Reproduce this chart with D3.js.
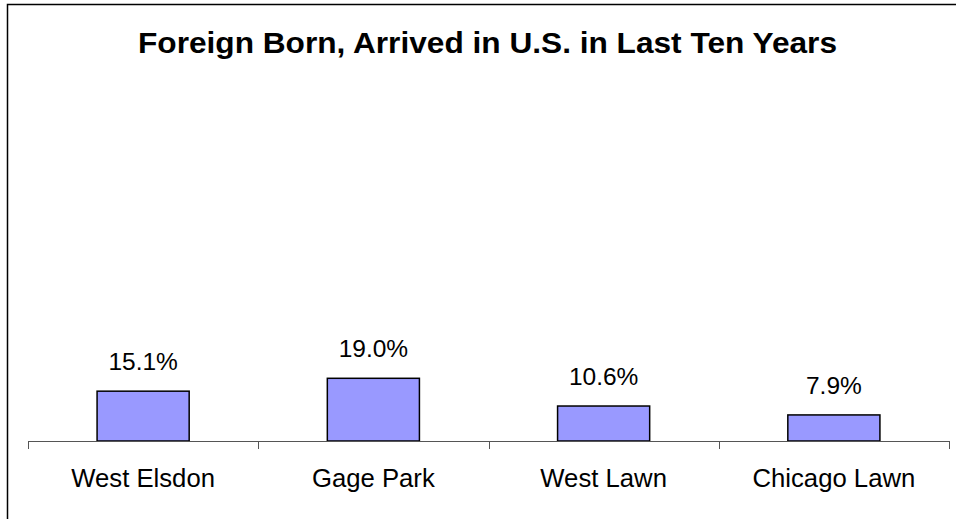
<!DOCTYPE html>
<html>
<head>
<meta charset="utf-8">
<script src="https://cdn.jsdelivr.net/npm/d3@7"></script>
<style>
  body { margin: 0; background: #fff; }
  text { font-family: "Liberation Sans", Arial, sans-serif; fill: #000; }
</style>
</head>
<body>
<div id="chart"></div>
<script>
const title = 'Foreign Born, Arrived in U.S. in Last Ten Years'
const neighborhoods = ['West Elsdon', 'Gage Park', 'West Lawn', 'Chicago Lawn']
const foreignBornPct = [15.1, 19.0, 10.6, 7.9]

const width = 956
const height = 519
const barFill = '#9999ff'

const svg = d3.select('#chart').append('svg')
    .attr('width', width)
    .attr('height', height)

// outer frame (only top and left edges fall inside the picture)
svg.append('path')
    .attr('d', `M7.5 ${height} V4.5 H${width}`)
    .attr('fill', 'none')
    .attr('stroke', '#000')
    .attr('stroke-width', 1.5)

// title is drawn a bit wider than the font normally runs
svg.append('text')
    .attr('x', 487.5)
    .attr('y', 53)
    .attr('text-anchor', 'middle')
    .attr('font-size', 29)
    .attr('font-weight', 'bold')
    .attr('textLength', 699)
    .attr('lengthAdjust', 'spacingAndGlyphs')
    .text(title)

const x = d3.scaleBand()
    .domain(neighborhoods)
    .range([28, 949])
    .paddingInner(0.6)
    .paddingOuter(0.3)

const y = d3.scaleLinear()
    .domain([0, 100])
    .range([441, 111])

const g = svg.append('g')

g.selectAll('rect.bar')
    .data(neighborhoods)
    .enter()
    .append('rect')
    .classed('bar', true)
    .attr('x', d => x(d))
    .attr('y', (d, i) => y(foreignBornPct[i]))
    .attr('width', x.bandwidth())
    .attr('height', (d, i) => y(0) - y(foreignBornPct[i]))
    .attr('fill', barFill)
    .attr('stroke', '#000')
    .attr('stroke-width', 1.5)

g.selectAll('text.value')
    .data(neighborhoods)
    .enter()
    .append('text')
    .classed('value', true)
    .attr('x', d => x(d) + x.bandwidth() / 2)
    .attr('y', (d, i) => y(foreignBornPct[i]) - 21)
    .attr('text-anchor', 'middle')
    .attr('font-size', 24.5)
    .text((d, i) => `${foreignBornPct[i].toFixed(1)}%`)

// category axis: line with ticks between bands
const boundaries = neighborhoods.map(d => x(d) - x.step() * x.paddingInner() / 2)
boundaries.push(x.range()[1])

g.append('line')
    .attr('x1', 28)
    .attr('x2', 950)
    .attr('y1', y(0) + 0.5)
    .attr('y2', y(0) + 0.5)
    .attr('stroke', '#555')
    .attr('stroke-width', 1)

g.selectAll('line.tick')
    .data(boundaries)
    .enter()
    .append('line')
    .classed('tick', true)
    .attr('x1', d => Math.round(d) + 0.5)
    .attr('x2', d => Math.round(d) + 0.5)
    .attr('y1', y(0))
    .attr('y2', y(0) + 8)
    .attr('stroke', '#555')

g.selectAll('text.category')
    .data(neighborhoods)
    .enter()
    .append('text')
    .classed('category', true)
    .attr('x', d => x(d) + x.bandwidth() / 2)
    .attr('y', 487)
    .attr('text-anchor', 'middle')
    .attr('font-size', 25.7)
    .text(d => d)
</script>
</body>
</html>
